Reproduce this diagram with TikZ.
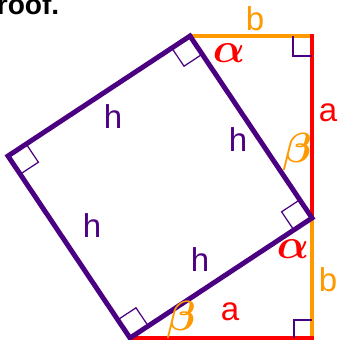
\documentclass[tikz,border=0pt]{standalone}
\usepackage{fontspec}
\setmainfont{Liberation Sans}
\usepackage{bm}
\usetikzlibrary{calc}

\definecolor{sqpurple}{RGB}{75,0,130}
\definecolor{legred}{RGB}{255,0,0}
\definecolor{legorange}{RGB}{255,153,0}

\begin{document}
\begin{tikzpicture}[x=0.1mm,y=-0.1mm,
    leg/.style={line width=1.4pt,line cap=rect},
    side/.style={sqpurple,line width=1.4pt},
    rightangle/.style={sqpurple,line width=0.35pt},
    lbl/.style={inner sep=0pt,font=\fontsize{9.4}{11}\selectfont},
    greek/.style={inner sep=0pt,font=\fontsize{11.5}{13}\selectfont}]
  \useasboundingbox (0,0) rectangle (337,340);

  % corners of the tilted square
  \coordinate (sqtop) at (190,36);
  \coordinate (sqright) at (312,218);
  \coordinate (sqbot) at (130,338);
  \coordinate (sqleft) at (8,156);
  % corners of the outer square
  \coordinate (outtop) at (312,36);
  \coordinate (outbot) at (312,338);

  \node[anchor=base east,inner sep=0pt,font=\bfseries\fontsize{8}{10}\selectfont] (proof) at (60,14) {Proof.};

  % legs of the two triangles
  \draw[leg,legorange] (sqtop) -- (outtop);
  \draw[leg,legorange] (sqright) -- (outbot);
  \draw[leg,legred] (outtop) -- (sqright);
  \draw[leg,legred] (sqbot) -- (outbot);

  % right angles
  \foreach \v/\p/\q in {sqtop/sqleft/sqright,sqright/sqtop/sqbot,sqbot/sqright/sqleft,sqleft/sqbot/sqtop}{
    \coordinate (m1) at ($(\v)!0.1!(\p)$);
    \coordinate (m2) at ($(\v)!0.1!(\q)$);
    \draw[rightangle] (m1) -- ($(m1)+(m2)-(\v)$) -- (m2);
  }
  \draw[rightangle] ($(outtop)+(-19,0)$) -- ++(0,20) -- ++(19,0);
  \draw[rightangle] ($(outbot)+(-18,0)$) -- ++(0,-18) -- ++(18,0);

  \draw[side] (sqtop) -- (sqright) -- (sqbot) -- (sqleft) -- cycle;

  \node[lbl,legorange] (btop) at (255,19) {b};
  \node[greek,legred] (alphatop) at (229,53) {$\bm{\alpha}$};
  \node[lbl,legred] (aright) at (328,113) {a};
  \node[greek,legorange] (betaright) at (297,152) {$\bm{\beta}$};
  \node[greek,legred] (alphalow) at (293,249) {$\bm{\alpha}$};
  \node[lbl,legorange] (bright) at (328,280) {b};
  \node[lbl,legred] (abot) at (230,312) {a};
  \node[greek,legorange] (betabot) at (181,320) {$\bm{\beta}$};

  \node[lbl,sqpurple] (hone) at (113,117) {h};
  \node[lbl,sqpurple] (htwo) at (238,140) {h};
  \node[lbl,sqpurple] (hthree) at (92,226) {h};
  \node[lbl,sqpurple] (hfour) at (200,260) {h};
\end{tikzpicture}
\end{document}
